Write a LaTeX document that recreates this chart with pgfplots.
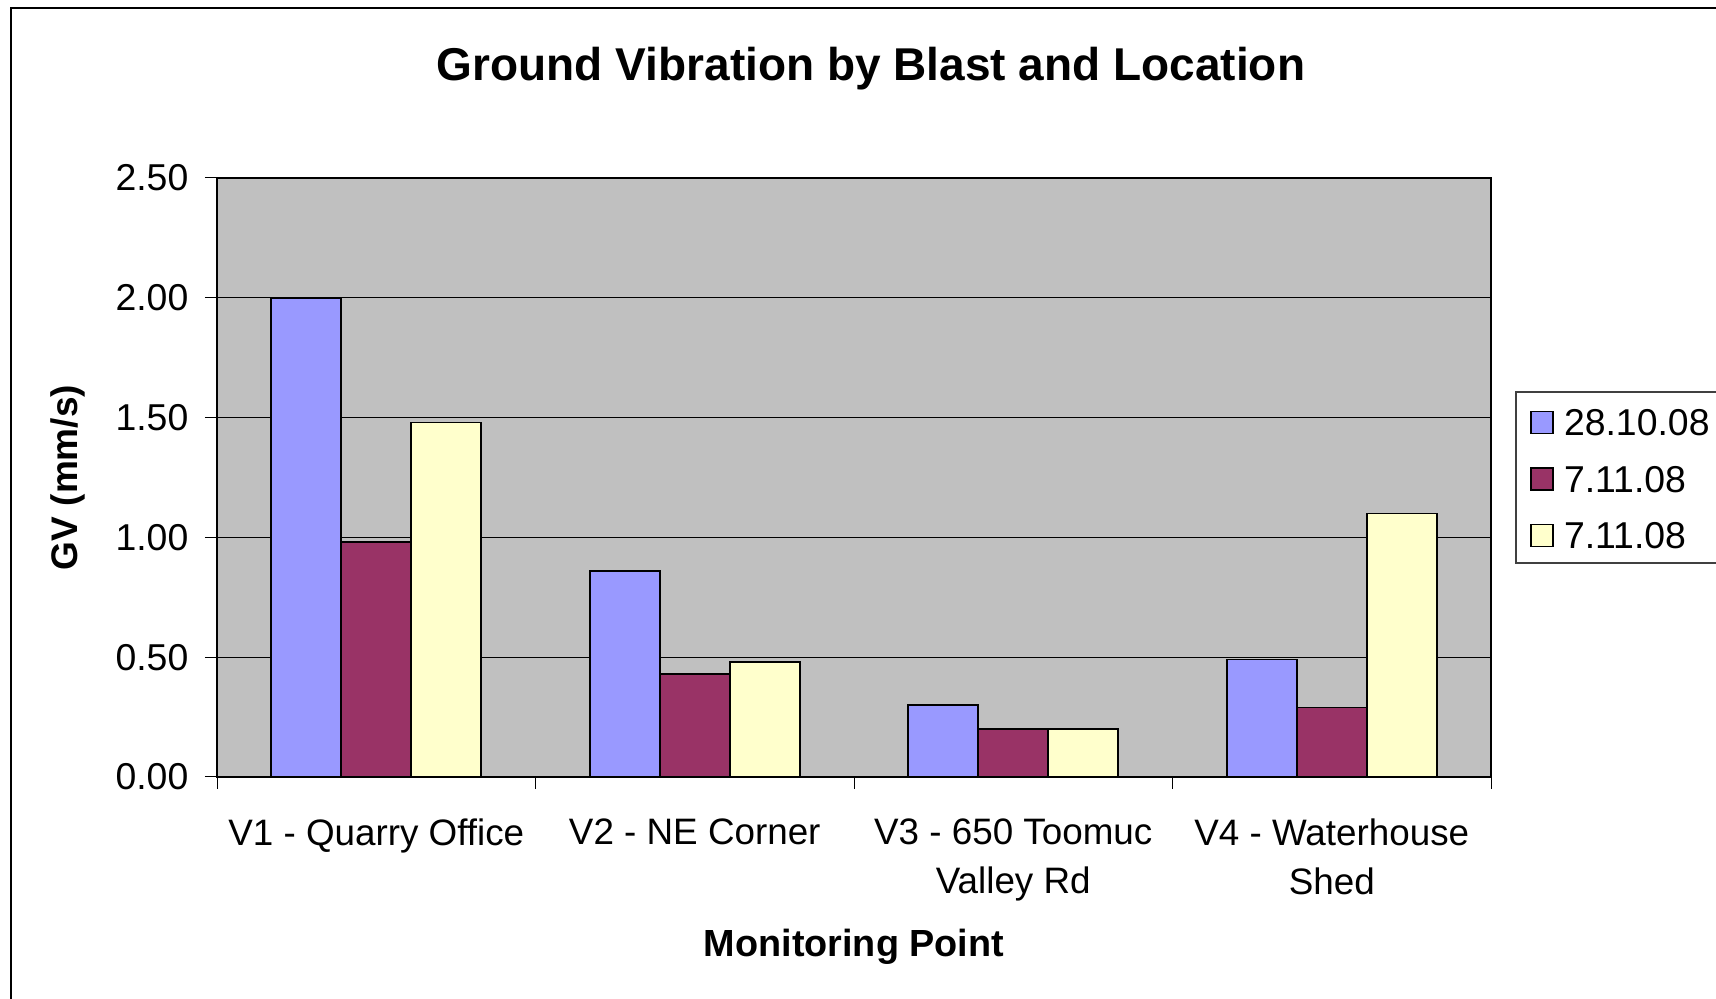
\documentclass[border=0pt]{standalone}
\usepackage{pgfplots}
\pgfplotsset{compat=1.18}
\usepackage{fontspec}
\setmainfont{Liberation Sans}
\definecolor{sblue}{HTML}{9999FF}
\definecolor{sred}{HTML}{993366}
\definecolor{syel}{HTML}{FFFFCC}
\definecolor{plotbg}{HTML}{C0C0C0}
\begin{document}
\begin{tikzpicture}
\path[use as bounding box] (0,0) rectangle (858pt,499.5pt);
\draw[line width=1pt] (5.5pt,-20pt) -- (5.5pt,495.5pt) -- (900pt,495.5pt);
\node[font=\bfseries\fontsize{23}{28}\selectfont] at (435.5pt,465pt) {Ground Vibration by Blast and Location};
\draw[line width=0.6pt, draw=black!75, fill=white] (758pt,303.5pt) rectangle (900pt,218pt);
\begin{axis}[
  at={(108.5pt,111pt)}, anchor=south west,
  scale only axis, width=637pt, height=299.5pt,
  ybar=0pt, bar width=35pt,
  xmin=-0.5, xmax=3.5, ymin=0, ymax=2.5,
  ytick={0,0.5,1,1.5,2,2.5},
  xtick={-0.5,0.5,1.5,2.5,3.5}, xticklabels={},
  extra x ticks={0,1,2,3},
  extra x tick labels={V1 - Quarry Office, V2 - NE Corner, {V3 - 650 Toomuc\\Valley Rd}, {V4 - Waterhouse\\Shed}},
  extra x tick style={major tick length=0pt, grid=none},
  tick align=outside, major tick length=6pt,
  tick style={black, line width=0.5pt},
  xtick pos=bottom, ytick pos=left,
  ymajorgrids, grid style={black, line width=0.5pt},
  axis background/.style={fill=plotbg},
  axis line style={black, line width=0.6pt},
  /pgf/number format/assume math mode=true,
  yticklabel={\pgfmathprintnumber[fixed,fixed zerofill,precision=2]{\tick}},
  yticklabel style={font=\fontsize{18.7}{22}\selectfont, xshift=-4.8pt},
  xticklabel style={font=\fontsize{18.4}{24.5}\selectfont, align=center, anchor=north, yshift=-17.2pt},
  xlabel={Monitoring Point},
  ylabel={GV (mm/s)},
  xlabel style={font=\bfseries\fontsize{18.9}{22}\selectfont, at={(axis description cs:0.5,-0.284)}, anchor=center},
  ylabel style={font=\bfseries\fontsize{18.5}{22}\selectfont, at={(axis description cs:-0.117,0.5)}, anchor=center},
  legend style={at={(1.0306,0.4975)}, anchor=west, draw=none, fill=none, inner sep=0pt,
    font=\fontsize{18.7}{22}\selectfont, row sep=11.2pt, column sep=3.0pt,
    nodes={inner sep=2pt, text depth=0pt}},
  legend cell align=left,
  legend image code/.code={\draw[#1,draw=black,line width=0.8pt] (0pt,-5.5pt) rectangle (11pt,5.5pt);},
]
\addplot[fill=sblue, draw=black, line width=0.8pt] coordinates {(0,2.00) (1,0.86) (2,0.30) (3,0.49)};
\addplot[fill=sred, draw=black, line width=0.8pt] coordinates {(0,0.98) (1,0.43) (2,0.20) (3,0.29)};
\addplot[fill=syel, draw=black, line width=0.8pt] coordinates {(0,1.48) (1,0.48) (2,0.20) (3,1.10)};
\legend{28.10.08, 7.11.08, 7.11.08}
\end{axis}
\end{tikzpicture}
\end{document}
